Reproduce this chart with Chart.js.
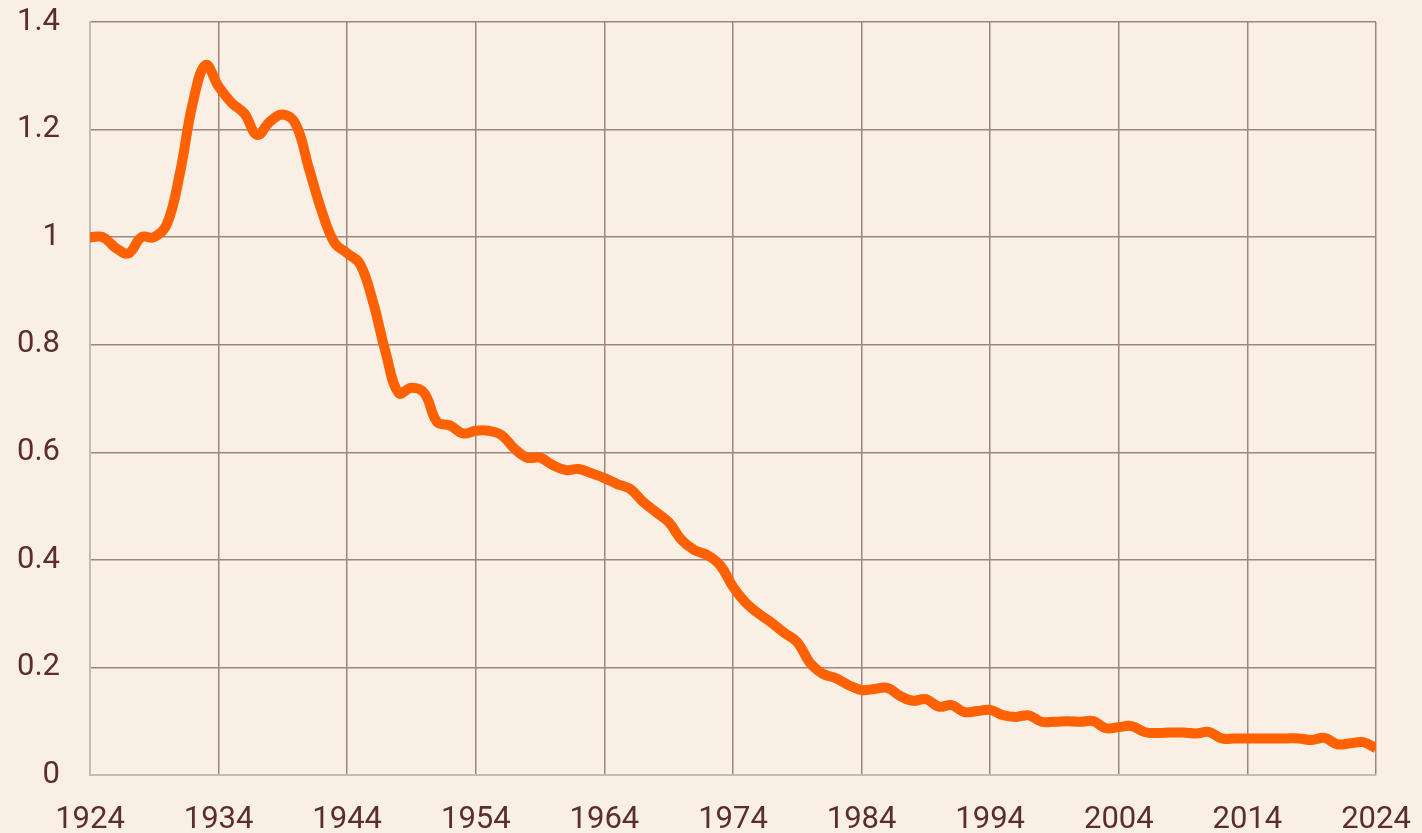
<!DOCTYPE html>
<html>
<head>
<meta charset="utf-8">
<script src="https://cdn.jsdelivr.net/npm/chart.js@4.4.1/dist/chart.umd.min.js"></script>
<style>
  html, body { margin: 0; padding: 0; background: #f9efe5; }
  .wrap { width: 1422px; height: 833px; position: relative; }
</style>
</head>
<body>
<div class="wrap"><canvas id="chart"></canvas></div>
<script>
const years = [];
for (let y = 1924; y <= 2024; y++) years.push(y);

const values = [
  1.0, 1.0, 0.98, 0.97, 1.0, 1.0, 1.025, 1.12, 1.25, 1.32,
  1.28, 1.25, 1.23, 1.19, 1.215, 1.228, 1.21, 1.13, 1.05, 0.99,
  0.97, 0.95, 0.88, 0.785, 0.71, 0.72, 0.71, 0.656, 0.65, 0.635,
  0.64, 0.64, 0.632, 0.607, 0.59, 0.59, 0.576, 0.567, 0.569, 0.561,
  0.552, 0.541, 0.532, 0.508, 0.489, 0.47, 0.437, 0.418, 0.409, 0.39,
  0.35, 0.32, 0.30, 0.283, 0.264, 0.247, 0.208, 0.188, 0.18, 0.167,
  0.158, 0.16, 0.162, 0.147, 0.138, 0.141, 0.127, 0.13, 0.117, 0.119,
  0.121, 0.111, 0.108, 0.111, 0.099, 0.099, 0.1, 0.099, 0.1, 0.087,
  0.089, 0.091, 0.08, 0.078, 0.079, 0.079, 0.077, 0.08, 0.068, 0.068,
  0.068, 0.068, 0.068, 0.068, 0.068, 0.065, 0.069, 0.057, 0.059, 0.061,
  0.05
];

const yTickLabels = ['0', '0.2', '0.4', '0.6', '0.8', '1', '1.2', '1.4'];
const xTickLabels = ['1924', '1934', '1944', '1954', '1964', '1974', '1984', '1994', '2004', '2014', '2024'];

const textColor = '#5b2d2c';
const gridColor = '#9f857f';
const axisColor = '#c0bcb9';

const ctx = document.getElementById('chart').getContext('2d');
new Chart(ctx, {
  type: 'line',
  data: {
    datasets: [{
      data: years.map((y, i) => ({ x: y, y: values[i] })),
      borderColor: '#ff6000',
      borderWidth: 10,
      pointRadius: 0,
      tension: 0.4,
      fill: false
    }]
  },
  options: {
    responsive: true,
    maintainAspectRatio: false,
    animation: false,
    layout: {
      padding: { top: 22, right: 46, left: 0, bottom: 0 }
    },
    plugins: {
      legend: { display: false },
      tooltip: { enabled: false }
    },
    scales: {
      x: {
        type: 'linear',
        min: 1924,
        max: 2024,
        afterFit: scale => { scale.height = 58; },
        afterBuildTicks: scale => {
          scale.ticks = xTickLabels.map(t => ({ value: Number(t) }));
        },
        ticks: {
          color: textColor,
          font: { family: 'Roboto', size: 31 },
          padding: 0,
          maxRotation: 0,
          autoSkip: false,
          callback: (v, i) => xTickLabels[i]
        },
        grid: { color: gridColor, lineWidth: 1.5, drawTicks: true, tickLength: 27, tickColor: 'rgba(0,0,0,0)' },
        border: { color: axisColor, width: 2 }
      },
      y: {
        min: 0,
        max: 1.4,
        afterFit: scale => { scale.width = 90; },
        afterBuildTicks: scale => {
          scale.ticks = yTickLabels.map(t => ({ value: Number(t) }));
        },
        ticks: {
          color: textColor,
          font: { family: 'Roboto', size: 31 },
          padding: 0,
          callback: (v, i) => yTickLabels[i]
        },
        grid: { color: gridColor, lineWidth: 1.5, drawTicks: true, tickLength: 30, tickColor: 'rgba(0,0,0,0)' },
        border: { color: axisColor, width: 2 }
      }
    }
  }
});
</script>
</body>
</html>
